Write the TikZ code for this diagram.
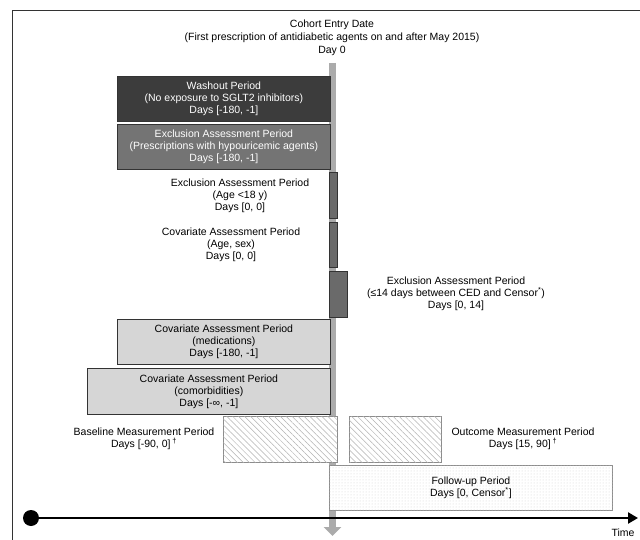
\documentclass[tikz,border=0pt]{standalone}
\usepackage{fontspec}
\setmainfont{Liberation Sans}
\usetikzlibrary{patterns,patterns.meta,arrows.meta}
\definecolor{darkfill}{HTML}{3C3C3C}
\definecolor{midfill}{HTML}{747474}
\definecolor{barfill}{HTML}{6A6A6A}
\definecolor{lightfill}{HTML}{D6D6D6}
\definecolor{cedgray}{HTML}{ABABAB}
\definecolor{edge}{HTML}{333333}
\begin{document}
\begin{tikzpicture}[x=1pt,y=-1pt,
  every node/.style={font=\fontsize{10.5}{12}\selectfont, align=center, inner sep=0pt},
  pbox/.style={draw=edge, line width=0.8pt, anchor=north west},
  darkbox/.style={pbox, fill=darkfill, text=white},
  midbox/.style={pbox, fill=midfill, text=white},
  thinbar/.style={pbox, fill=barfill},
  lightbox/.style={pbox, fill=lightfill},
  hatchbox/.style={anchor=north west, draw=gray!90, line width=0.8pt, fill=white, postaction={pattern={Lines[angle=-45,distance=4.2pt,line width=0.5pt]}, pattern color=gray!60}},
  dotbox/.style={anchor=north west, draw=gray!90, line width=0.8pt, fill=white, postaction={pattern=dots, pattern color=gray!35}},
  lbl/.style={text=black}
]
\useasboundingbox[fill=white] (0,0) rectangle (640,540);
% frame
\draw[line width=1pt, black!80] (12,540) -- (12,11) -- (640,11);

% title
\node[lbl, font=\fontsize{10.5}{13}\selectfont] (ced) at (332,38) {Cohort Entry Date\\(First prescription of antidiabetic agents on and after May 2015)\\Day 0};

% cohort entry date bar
\coordinate (cedtop) at (332.5,63);
\coordinate (cedbot) at (332.5,536);
\draw[line width=7pt, cedgray, -{Triangle[width=17pt,length=9pt]}] (cedtop) -- (cedbot);

% boxes
\node[darkbox, minimum width=213pt, minimum height=45pt] (wash) at (117,76)
  {Washout Period\\(No exposure to SGLT2 inhibitors)\\Days [-180, -1]};
\node[midbox, minimum width=213pt, minimum height=45pt] (excl1) at (117,124)
  {Exclusion Assessment Period\\(Prescriptions with hypouricemic agents)\\Days [-180, -1]};

\node[thinbar, minimum width=8pt, minimum height=46pt] (bar1) at (329,172) {};
\node[lbl] (excl2) at (240,196) {Exclusion Assessment Period\\(Age <18 y)\\Days [0, 0]};

\node[thinbar, minimum width=8pt, minimum height=45pt] (bar2) at (329,222) {};
\node[lbl] (cov1) at (231,245) {Covariate Assessment Period\\(Age, sex)\\Days [0, 0]};

\node[thinbar, minimum width=18pt, minimum height=46pt] (bar3) at (329,271) {};
\node[lbl] (excl3) at (456,294) {Exclusion Assessment Period\\(≤14 days between CED and Censor\textsuperscript{*})\\Days [0, 14]};

\node[lightbox, minimum width=213pt, minimum height=45pt] (cov2) at (117,319)
  {Covariate Assessment Period\\(medications)\\Days [-180, -1]};
\node[lightbox, minimum width=243pt, minimum height=46pt] (cov3) at (87,368)
  {Covariate Assessment Period\\(comorbidities)\\Days [-∞, -1]};

\node[hatchbox, minimum width=114pt, minimum height=46pt] (base) at (223,416) {};
\node[lbl] (basel) at (144,439) {Baseline Measurement Period\\Days [-90, 0]\,\textsuperscript{†}};

\node[hatchbox, minimum width=92pt, minimum height=46pt] (outc) at (349,416) {};
\node[lbl] (outcl) at (523,439) {Outcome Measurement Period\\Days [15, 90]\,\textsuperscript{†}};

\node[dotbox, minimum width=283pt, minimum height=45pt] (fu) at (329,465)
  {Follow-up Period\\Days [0, Censor\textsuperscript{*}]};

% timeline
\node[circle, fill=black, minimum size=16pt] (start) at (31,518) {};
\coordinate (tend) at (638,518);
\draw[line width=2.5pt, -{Triangle[length=10pt,width=11pt]}] (start.center) -- (tend);
\node[lbl] (time) at (623,533) {Time};
\end{tikzpicture}
\end{document}
